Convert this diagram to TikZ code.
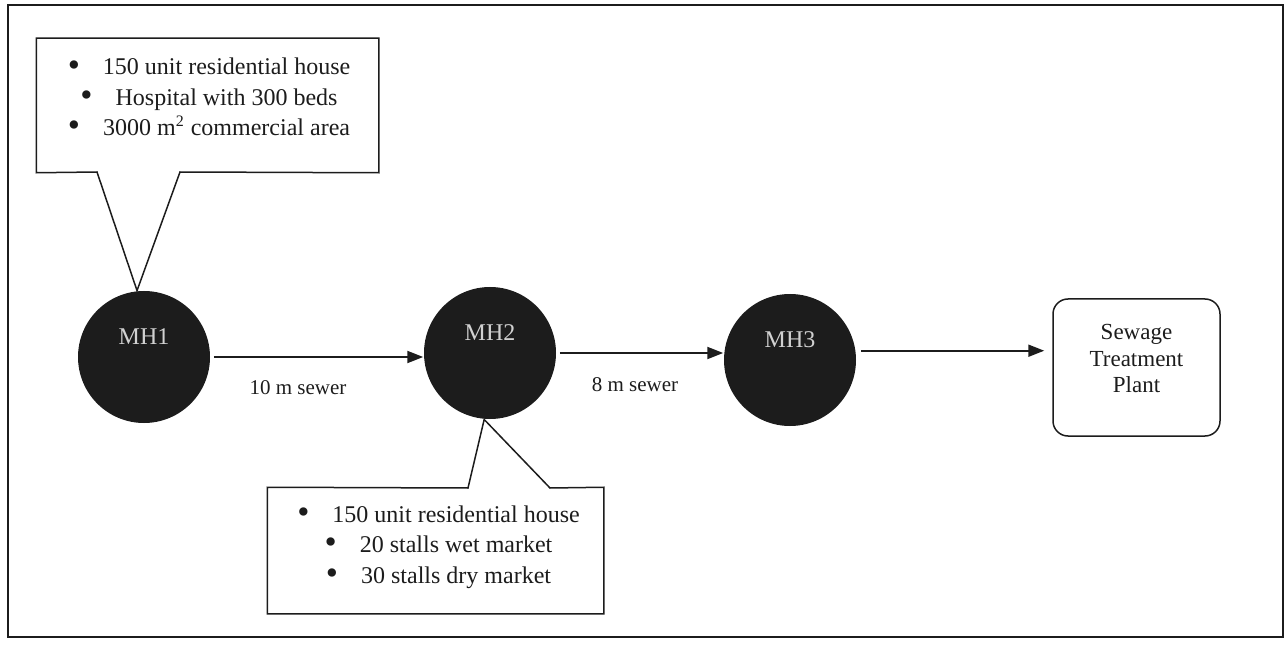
\documentclass[tikz,border=0pt]{standalone}
\usepackage{fontspec}
\setmainfont{Liberation Serif}
\usetikzlibrary{arrows.meta,positioning}
\definecolor{ink}{RGB}{28,28,28}
\newcommand{\blt}{\raisebox{-0.6pt}{\scalebox{1.45}{\textbullet}}\hspace{11.5pt}}

\begin{document}
\begin{tikzpicture}[x=0.5pt,y=-0.5pt,color=ink,line width=0.75pt,
  every node/.style={font=\fontsize{12}{15.2}\selectfont},
  manhole/.style={circle,fill=ink,minimum size=66pt,inner sep=0pt},
  mhname/.style={text=black!18,yshift=10pt},
  notebox/.style={inner sep=0pt},
  pipe/.style={-{Triangle[length=8pt,width=6pt]},line width=1pt},
  sewer/.style={font=\fontsize{10.5}{12}\selectfont}]
\useasboundingbox (0,0) rectangle (1287,647);
\draw (8,5) rectangle (1283,637);
% manholes and plant
\node[manhole,label={[mhname]center:MH1}] (mh1) at (144,357) {};
\node[manhole,label={[mhname]center:MH2}] (mh2) at (490,353) {};
\node[manhole,label={[mhname]center:MH3}] (mh3) at (790,360) {};
\node[draw,rounded corners=7.5pt,minimum width=83.5pt,minimum height=68.5pt,
  label={[align=center,yshift=4.5pt,font=\fontsize{11.5}{13.25}\selectfont]center:Sewage\\Treatment\\Plant}] (stp) at (1136.5,367.5) {};
% sewers
\draw[pipe,shorten <=1.5pt] (mh1.east) -- (mh1.east -| mh2.west);
\draw[pipe,shorten <=1.5pt] (mh2.east) -- (mh2.east -| mh3.west);
\draw[pipe,shorten <=2.5pt,shorten >=4pt] (mh3.8) -- (mh3.8 -| stp.west);
\node[sewer] (len1) at (298,388) {10 m sewer};
\node[sewer] (len2) at (635,385) {8 m sewer};
% callouts
\node[notebox,minimum width=170.5pt,minimum height=66.5pt,
  label={[align=center,xshift=0.75pt,yshift=4pt]center:\blt 150 unit residential house\\\blt Hospital with 300 beds\\\blt 3000 m\textsuperscript{2} commercial area}] (note1) at (207.5,105.5) {};
\coordinate (tab1a) at (97,172);
\coordinate (tab1b) at (180,172);
\draw (note1.north west) -- (note1.north east) -- (note1.south east) -- (tab1b)
  -- (mh1.96) -- (tab1a) -- (note1.south west) -- cycle;
\node[notebox,minimum width=167.5pt,minimum height=62.5pt,
  label={[align=center,xshift=1.5pt,yshift=1.75pt]center:\blt 150 unit residential house\\\blt 20 stalls wet market\\\blt 30 stalls dry market}] (note2) at (435.5,550.5) {};
\coordinate (tab2a) at (468,488);
\coordinate (tab2b) at (550,488);
\draw (note2.south west) -- (note2.south east) -- (note2.north east) -- (tab2b)
  -- (mh2.265) -- (tab2a) -- (note2.north west) -- cycle;
\end{tikzpicture}
\end{document}
